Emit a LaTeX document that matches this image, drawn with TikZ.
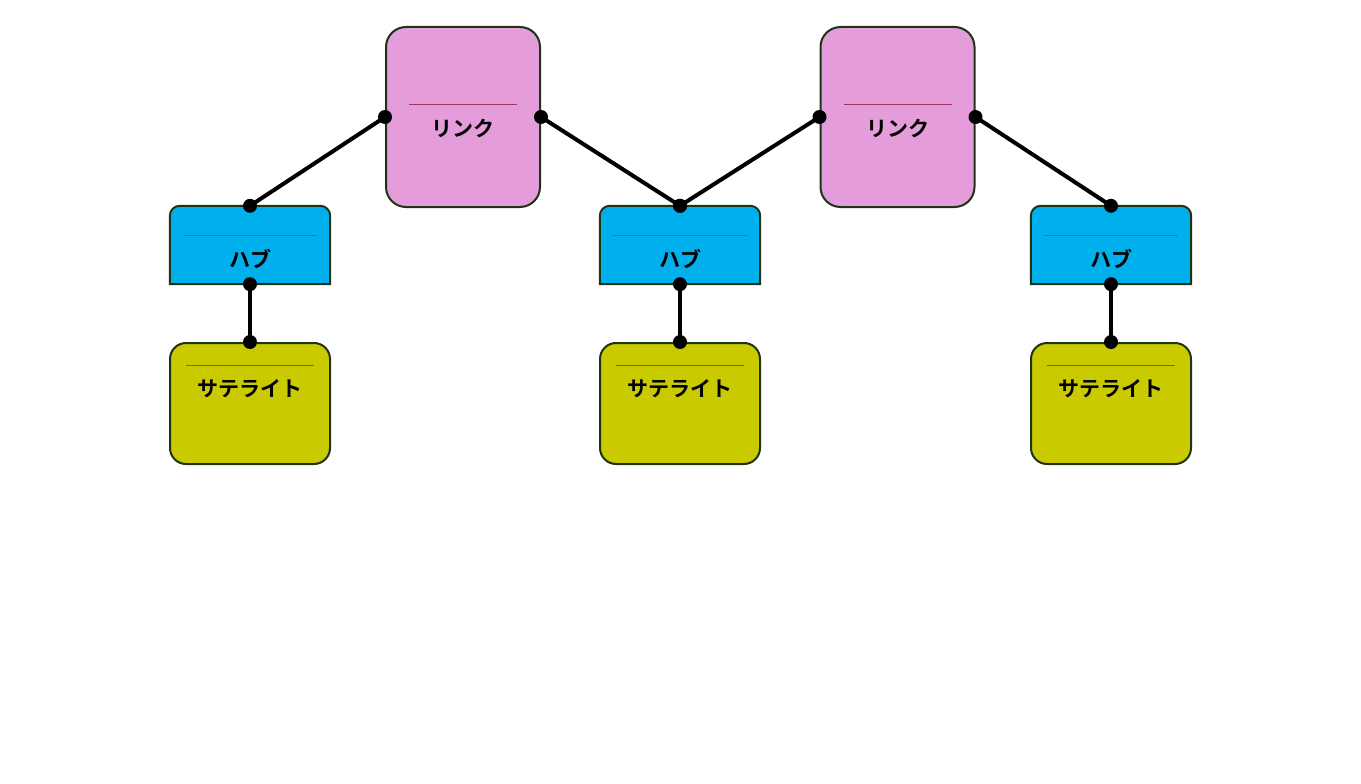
\documentclass[tikz,border=0pt]{standalone}
\usetikzlibrary{calc}
\usepackage{fontspec}
\newfontfamily\jp{Noto Sans CJK JP}[BoldFont=* Bold]
\begin{document}
\begin{tikzpicture}[x=1pt,y=-1pt,
  box/.style={draw={rgb,255:red,30;green,50;blue,20},line width=2pt,inner sep=0},
  link/.style={box,fill={rgb,255:red,228;green,156;blue,218},rounded corners=20pt,minimum width=154pt,minimum height=180pt},
  sat/.style={box,fill={rgb,255:red,202;green,202;blue,0},rounded corners=16pt,minimum width=160pt,minimum height=121pt},
  hub/.style={inner sep=0,minimum width=160pt,minimum height=78pt},
  lab/.style={font=\jp\bfseries\fontsize{21}{25}\selectfont},
  sep/.style={gray!80!black,line width=0.8pt},
  con/.style={line width=4pt},
  dot/.style={circle,fill=black,inner sep=0,minimum size=14pt}]
\useasboundingbox (0,0) rectangle (1361,784);
\node[link] (l1) at (463,117) {};
\node[link] (l2) at (897.5,117) {};
\foreach \n/\x in {h1/250,h2/680,h3/1111}{
  \node[hub] (\n) at (\x,245) {};
  \draw[box,fill={rgb,255:red,0;green,176;blue,236}] (\n.south west) [rounded corners=10pt]-- (\n.north west) -- (\n.north east) [sharp corners]-- (\n.south east) -- cycle;
  \draw[sep] ($(\n.north)+(-67,30)$) -- ++(134,0);
  \node[lab] at (\x,259) {ハブ};
}
\foreach \n/\x in {s1/250,s2/680,s3/1111}{
  \node[sat] (\n) at (\x,403.5) {};
  \draw[sep] (\x-64,365) -- (\x+64,365);
  \node[lab] at (\x,389) {サテライト};
}
\foreach \n in {l1,l2}{
  \draw[sep,purple!60!gray] ($(\n.north)+(-54,78)$) -- ++(108,0);
  \node[lab] at ($(\n.north)+(0,102)$) {リンク};
}
\foreach \a/\b in {l1.west/h1.north,l1.east/h2.north,l2.west/h2.north,l2.east/h3.north,h1.south/s1.north,h2.south/s2.north,h3.south/s3.north}{
  \draw[con] (\a) -- (\b);
  \node[dot] at (\a) {};
  \node[dot] at (\b) {};
}
\end{tikzpicture}
\end{document}
